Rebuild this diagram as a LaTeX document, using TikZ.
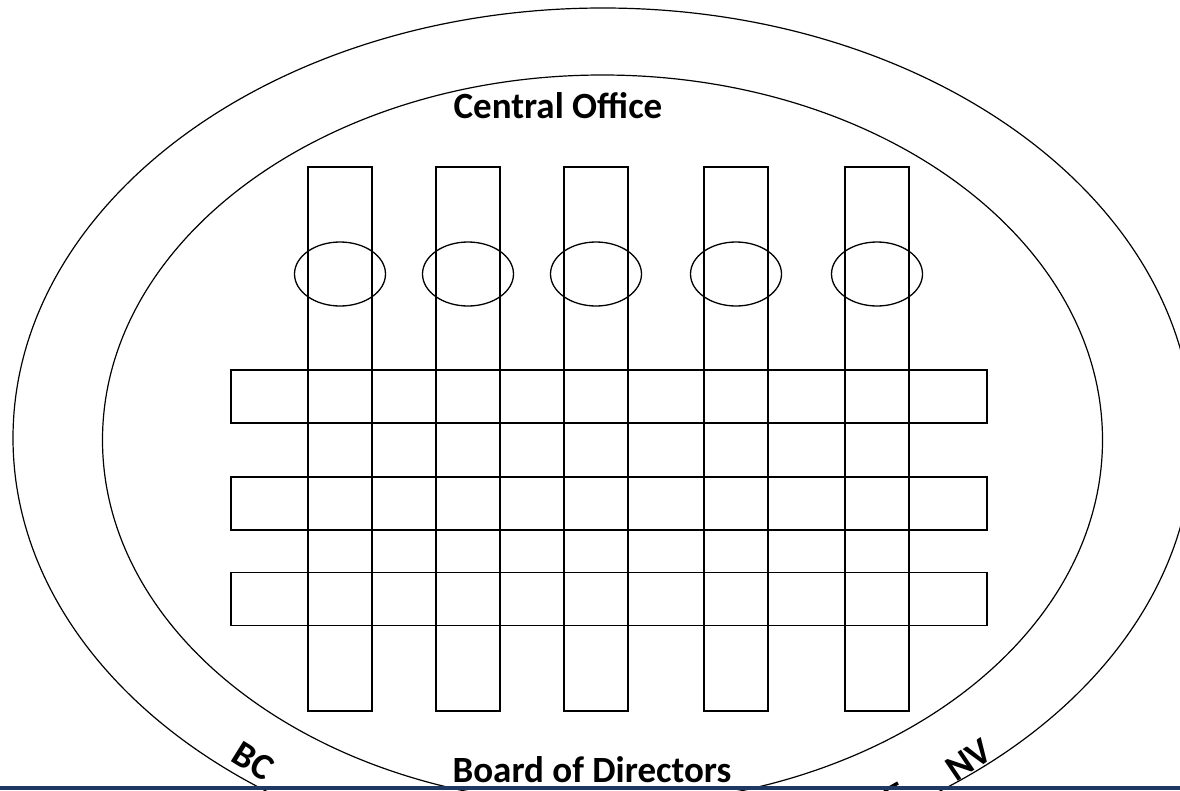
\documentclass[tikz,border=0pt]{standalone}
\usepackage{fontspec}
\setmainfont{Carlito}
\usetikzlibrary{shapes.geometric}
\definecolor{navybar}{HTML}{1F3864}
\tikzset{
  bigoval/.style={draw=black, line width=1.2pt, ellipse, inner sep=0pt, outer sep=0pt},
  smalloval/.style={draw=black, line width=1.3pt, ellipse, inner sep=0pt, outer sep=0pt, minimum width=91pt, minimum height=64pt},
  vbar/.style={draw=black, line width=1.5pt, rectangle, inner sep=0pt, outer sep=0pt, minimum width=64pt, minimum height=544pt},
  hbar/.style={draw=black, line width=1.5pt, rectangle, inner sep=0pt, outer sep=0pt, minimum width=756pt, minimum height=53pt},
  lbl/.style={font=\fontsize{37}{44}\selectfont\bfseries, inner sep=0pt}
}
\begin{document}
\begin{tikzpicture}[x=1pt,y=-1pt]
\useasboundingbox (0,0) rectangle (1180,790);
\clip (0,0) rectangle (1180,790);
\fill[white] (0,0) rectangle (1180,790);
% big ellipses
\node[bigoval, minimum width=1180pt, minimum height=860pt] (outer) at (603,438) {};
\node[bigoval, minimum width=1000pt, minimum height=730pt] (inner) at (602.5,440) {};
% vertical bars with small ovals
\foreach \i/\x in {1/340,2/468,3/596,4/736,5/877}{
  \node[vbar] (v\i) at (\x,439) {};
  \node[smalloval] (o\i) at (\x,274) {};
}
% horizontal bars
\node[hbar] (h1) at (609,396.5) {};
\node[hbar] (h2) at (609,503.5) {};
\node[hbar] (h3) at (609,599) {};
% labels
\node[lbl] (central) at (558,106) {Central Office};
\node[lbl] (board) at (592,770) {Board of Directors};
\node[lbl, rotate=-32] (bc) at (253,761) {BC};
\node[lbl, rotate=34] (nv) at (969,760) {NV};
\coordinate (fa) at (898,783);
\coordinate (fb) at (884,791);
\draw[line width=3.5pt] (fa) -- (fb);
% bottom bar
\fill[navybar] (0,786) rectangle (1180,790);
\end{tikzpicture}
\end{document}
